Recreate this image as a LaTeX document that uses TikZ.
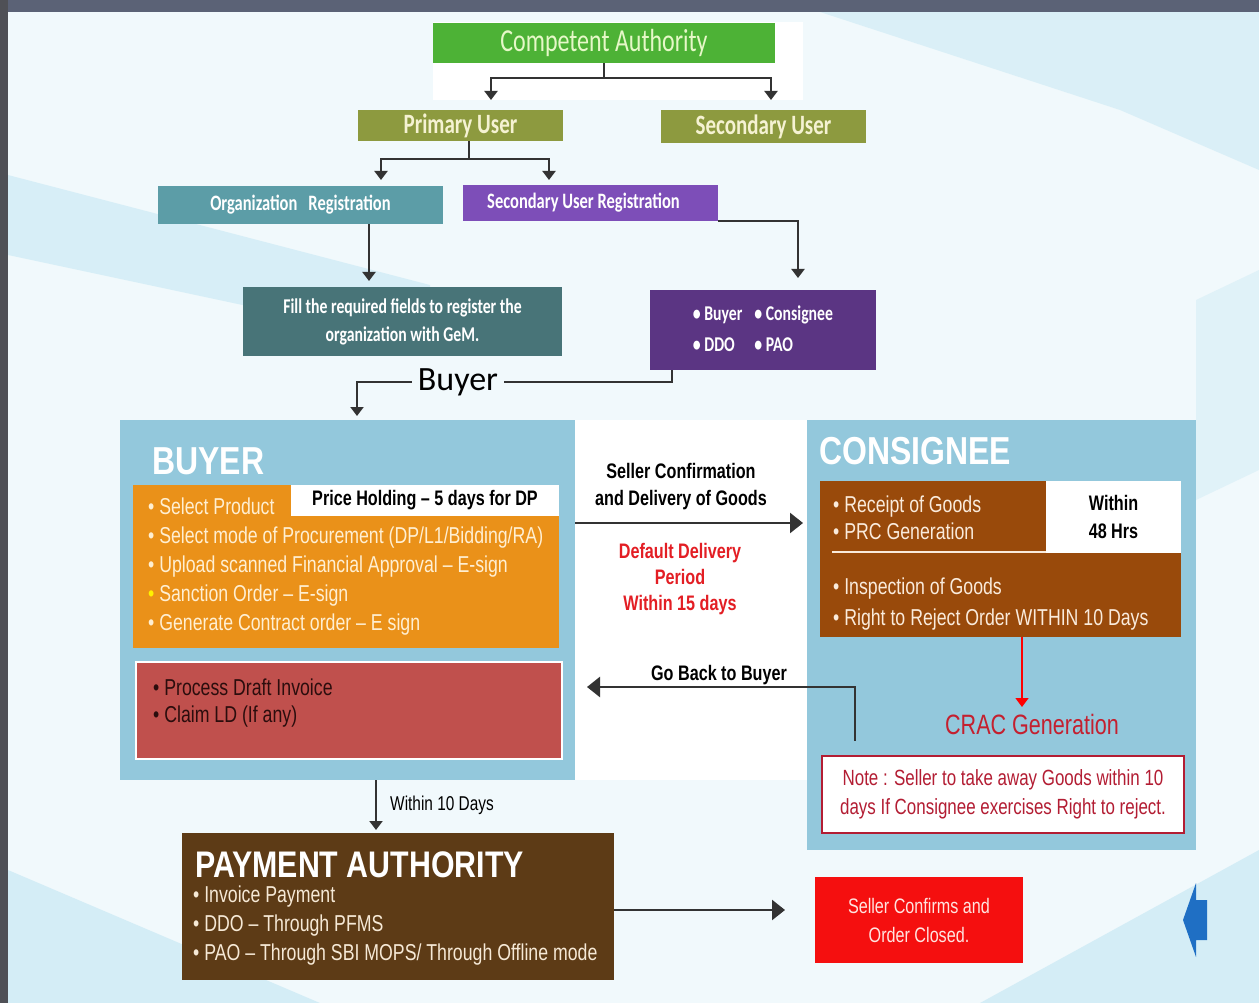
\documentclass[tikz,border=0pt]{standalone}
\usepackage{fontspec}
\usetikzlibrary{arrows.meta}
\setmainfont{Liberation Sans}
\newfontfamily\condfont[FakeStretch=0.75]{Carlito}
\newfontfamily\calfont{Carlito}
\newfontfamily\narrowfont[FakeStretch=0.77]{Liberation Sans}
\newfontfamily\headfont[FakeStretch=0.82]{Liberation Sans}

\definecolor{bgwhite}{HTML}{F1F9FC}
\definecolor{streak}{HTML}{B9E2F1}
\definecolor{topbar}{HTML}{5B6276}
\definecolor{sidebar}{HTML}{4F5056}
\definecolor{cagreen}{HTML}{4DB236}
\definecolor{catext}{HTML}{E6F8C8}
\definecolor{olive}{HTML}{8D9A3F}
\definecolor{olivetext}{HTML}{F5F2D2}
\definecolor{orgteal}{HTML}{5C9DA7}
\definecolor{surpurple}{HTML}{7D4EB8}
\definecolor{filldark}{HTML}{487478}
\definecolor{rolepurple}{HTML}{5B3583}
\definecolor{panelblue}{HTML}{93C8DC}
\definecolor{procorange}{HTML}{EA9119}
\definecolor{proctext}{HTML}{FFEFD2}
\definecolor{draftred}{HTML}{C0504D}
\definecolor{drafttext}{HTML}{2B0D0D}
\definecolor{delivred}{HTML}{E31E24}
\definecolor{consbrown}{HTML}{994A0B}
\definecolor{constext}{HTML}{FAEBDC}
\definecolor{cracred}{HTML}{C4202F}
\definecolor{notered}{HTML}{B31D33}
\definecolor{paybrown}{HTML}{5D3B16}
\definecolor{paytext}{HTML}{F6E9D6}
\definecolor{closedred}{HTML}{F50F0F}
\definecolor{closedtext}{HTML}{FFE4E0}
\definecolor{linkgray}{HTML}{333333}
\definecolor{bluearrow}{HTML}{1F6FC4}

\tikzset{
  box/.style={rectangle, inner sep=0pt, align=center},
  cond/.style 2 args={font=\condfont\fontsize{#1}{#2}\selectfont},
  narrow/.style 2 args={font=\narrowfont\fontsize{#1}{#2}\selectfont},
  lst/.style={inner sep=0pt, align=left, anchor=west},
  head/.style={inner sep=0pt, anchor=base west, text=white},
  link/.style={draw=linkgray, line width=2pt},
  arr/.style={link, -{Triangle[length=9pt,width=13pt]}},
  bigarr/.style={link, line width=2.5pt, -{Triangle[length=13pt,width=20pt]}},
}

\begin{document}
\begin{tikzpicture}[x=1pt,y=-1pt]
  %%%%% BACKGROUND %%%%%
  \useasboundingbox (0,0) rectangle (1259,1003);
  \fill[bgwhite] (0,0) rectangle (1259,1003);
  \fill[streak, opacity=0.45] (8,175) -- (430,285) -- (430,345) -- (8,255) -- cycle;
  \fill[streak, opacity=0.4] (820,12) -- (1259,12) -- (1259,170) -- (1120,110) -- cycle;
  \fill[streak, opacity=0.3] (1196,300) -- (1259,270) -- (1259,470) -- (1196,500) -- cycle;
  \fill[streak, opacity=0.5] (8,870) -- (320,1003) -- (8,1003) -- cycle;
  \fill[streak, opacity=0.5] (980,1003) -- (1259,850) -- (1259,1003) -- cycle;
  \fill[topbar] (0,0) rectangle (1259,12);
  \fill[sidebar] (0,0) rectangle (8,1003);
  \fill[white] (433,22) rectangle (803,100);
  \fill[white] (575,420) rectangle (807,780);

  %%%%% TOP %%%%%
  \node[box, fill=cagreen, text=catext, minimum width=342, minimum height=40, cond={32}{32}] (ca) at (604,43) {Competent Authority};
  \node[box, fill=olive, text=olivetext, minimum width=205, minimum height=31, cond={28}{28}] (pu) at (460.5,125.5) {\bfseries Primary User};
  \node[box, fill=olive, text=olivetext, minimum width=205, minimum height=33, cond={28}{28}] (su) at (763.5,126.5) {\bfseries Secondary User};
  \node[box, fill=orgteal, text=white, minimum width=285, minimum height=38, cond={22}{22}] (orgreg) at (300.5,205) {\bfseries Organization\enspace Registration};
  \node[box, fill=surpurple, text=white, minimum width=255, minimum height=36, cond={22}{22}] (sureg) at (590.5,203) {\bfseries Secondary User Registration\hspace{14pt}};
  \node[box, fill=filldark, text=white, minimum width=319, minimum height=69, cond={21}{28}] (fill) at (402.5,321.5) {\bfseries Fill the required fields to register the\\\bfseries organization with GeM.};
  \node[box, fill=rolepurple, text=white, minimum width=226, minimum height=80, cond={21}{29}] (roles) at (763,330)
    {\bfseries\begin{tabular}{@{}l@{\hspace{12pt}}l@{}}• Buyer & • Consignee\\[2pt] • DDO & • PAO\end{tabular}};
  \node[inner sep=6pt, font=\calfont\fontsize{34}{34}\selectfont] (buyerlbl) at (458,382) {Buyer};

  \coordinate (pu-in) at (491,100);
  \coordinate (su-in) at (771,100);
  \coordinate (org-in) at (381,180);
  \coordinate (sureg-in) at (549,180);
  \coordinate (fill-in) at (369,281);
  \coordinate (roles-in) at (798,278);
  \coordinate (buyer-in) at (357,416);

  \draw[arr] (ca.south) -- ++(0,15) -| (pu-in);
  \draw[arr] (ca.south) -- ++(0,15) -| (su-in);
  \draw[arr] (pu.south) ++(8,0) -- ++(0,18) -| (org-in);
  \draw[arr] (pu.south) ++(8,0) -- ++(0,18) -| (sureg-in);
  \draw[arr] (orgreg.south -| fill-in) -- (fill-in);
  \draw[arr] (sureg.south east) -| (roles-in);
  \draw[link] (roles.south west) ++(22,0) |- (buyerlbl.east);
  \draw[arr] (buyerlbl.west) -| (buyer-in);

  %%%%% BUYER %%%%%
  \node[box, fill=panelblue, minimum width=455, minimum height=360] (buyer) at (347.5,600) {};
  \node[head, font=\headfont\bfseries\fontsize{39}{39}\selectfont] (buyerhead) at (152,474) {BUYER};
  \node[box, fill=procorange, minimum width=426, minimum height=163] (procure) at (346,566.5) {};
  \node[box, fill=white, minimum width=268, minimum height=31, narrow={21}{21}] (price) at (425,500.5) {\bfseries Price Holding – 5 days for DP};
  \node[lst, text=proctext, narrow={23}{29}] (proclist) at (148,567)
    {• Select Product\\
     • Select mode of Procurement (DP/L1/Bidding/RA)\\
     • Upload scanned Financial Approval – E-sign\\
     \textcolor{yellow}{•} Sanction Order – E-sign\\
     • Generate Contract order – E sign};
  \node[box, fill=draftred, draw=white, line width=2.5pt, minimum width=426, minimum height=97] (draft) at (349,710.5) {};
  \node[lst, text=drafttext, narrow={23}{27}] (draftlist) at (153,703)
    {• Process Draft Invoice\\• Claim LD (If any)};

  %%%%% MIDDLE %%%%%
  \node[box, narrow={21}{27}] (seller) at (681,487) {\bfseries Seller Confirmation\\\bfseries and Delivery of Goods};
  \node[box, text=delivred, narrow={21}{26}] (dflt) at (680,579) {\bfseries Default Delivery\\\bfseries Period\\\bfseries Within 15 days};
  \node[box, narrow={21}{21}] (goback) at (719,675) {\bfseries Go Back to Buyer};

  %%%%% CONSIGNEE %%%%%
  \node[box, fill=panelblue, minimum width=389, minimum height=430] (consignee) at (1001.5,635) {};
  \node[head, font=\headfont\bfseries\fontsize{39}{39}\selectfont] (conshead) at (819,464) {CONSIGNEE};
  \node[box, fill=consbrown, minimum width=361, minimum height=156] (receipt) at (1000.5,559) {};
  \node[box, fill=white, minimum width=135, minimum height=72, narrow={21}{28}] (within48) at (1113.5,517) {\bfseries Within\\\bfseries 48 Hrs};
  \node[lst, text=constext, narrow={23}{27}] (conslist) at (833,518) {• Receipt of Goods\\• PRC Generation};
  \draw[constext, line width=1.2pt] (832,552) -- (within48.south west |- 0,552);
  \node[lst, text=constext, narrow={23}{31}] (inspect) at (833,604) {• Inspection of Goods\\• Right to Reject Order WITHIN 10 Days};
  \node[box, text=cracred, narrow={28}{28}] (crac) at (1032,724) {CRAC Generation};
  \node[box, fill=white, draw=notered, line width=2.5pt, minimum width=362, minimum height=77, text=notered, narrow={22}{29}] (note) at (1003,794.5)
    {Note : Seller to take away Goods within 10\\days If Consignee exercises Right to reject.};

  %%%%% PAYMENT %%%%%
  \node[box, fill=paybrown, minimum width=432, minimum height=147] (payment) at (398,906.5) {};
  \node[head, font=\headfont\bfseries\fontsize{37}{37}\selectfont] (payhead) at (195,877) {PAYMENT AUTHORITY};
  \node[lst, text=paytext, narrow={23}{29}] (paylist) at (193,926)
    {• Invoice Payment\\• DDO – Through PFMS\\• PAO – Through SBI MOPS/ Through Offline mode};
  \node[box, narrow={20}{20}] (withinlbl) at (442,805) {Within 10 Days};
  \node[box, fill=closedred, text=closedtext, minimum width=208, minimum height=86, narrow={21}{29}] (closed) at (919,920)
    {Seller Confirms and\\Order Closed.};

  \coordinate (deliv) at (803,523);
  \coordinate (back) at (587,687);
  \coordinate (crac-in) at (1022,707);
  \coordinate (pay-in) at (376,830);
  \coordinate (closed-in) at (785,910);

  \draw[bigarr] (buyer.east |- deliv) -- (deliv);
  \draw[bigarr] (note.north west) ++(34,-14) |- (back);
  \draw[arr, draw=red, line width=1.5pt] (receipt.south -| crac-in) -- (crac-in);
  \draw[arr] (buyer.south -| pay-in) -- (pay-in);
  \draw[bigarr] (payment.east |- closed-in) -- (closed-in);

  \fill[bluearrow] (1183,920) -- (1196,883) -- (1196,900) -- (1207,900) -- (1207,940) -- (1196,940) -- (1196,957) -- cycle;
\end{tikzpicture}
\end{document}
